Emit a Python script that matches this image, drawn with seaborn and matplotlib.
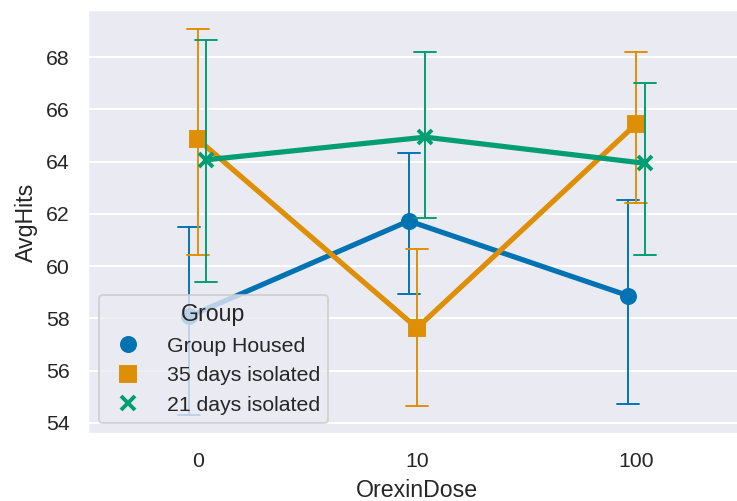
import numpy as np
import pandas as pd
import matplotlib
matplotlib.use("Agg")
import matplotlib.pyplot as plt
from matplotlib.lines import Line2D
import seaborn as sns

doses = [0, 10, 100]
groups = ["Group Housed", "35 days isolated", "21 days isolated"]
markers = ["o", "s", "X"]

# per group: point estimate, lower and upper error bounds at each dose
gh_mean = [58.08, 61.73, 58.87]
gh_low = [54.31, 58.94, 54.72]
gh_high = [61.48, 64.35, 62.54]

d35_mean = [64.86, 57.63, 65.45]
d35_low = [60.43, 54.65, 62.41]
d35_high = [69.07, 60.66, 68.22]

d21_mean = [64.07, 64.94, 63.94]
d21_low = [59.41, 61.86, 60.43]
d21_high = [68.66, 68.22, 67.01]

series = {
    "Group Housed": (gh_mean, gh_low, gh_high),
    "35 days isolated": (d35_mean, d35_low, d35_high),
    "21 days isolated": (d21_mean, d21_low, d21_high),
}

rows = []
for g in groups:
    m, lo, hi = series[g]
    for i, d in enumerate(doses):
        for v in (lo[i], m[i], hi[i]):
            rows.append({"OrexinDose": d, "AvgHits": v, "Group": g})
df = pd.DataFrame(rows)

sns.set_theme(style="darkgrid", palette="colorblind")
plt.rcParams["font.family"] = ["Liberation Sans", "DejaVu Sans"]

DPI = 139
fig = plt.figure(figsize=(737 / DPI, 501 / DPI), dpi=DPI)
ax = fig.add_axes([88 / 737, 1 - 434 / 501, (746 - 88) / 737, (434 - 10) / 501])

palette = sns.color_palette("colorblind", 3)
sns.pointplot(
    data=df, x="OrexinDose", y="AvgHits", hue="Group",
    order=doses, hue_order=groups,
    estimator="median", errorbar=lambda v: (v.min(), v.max()),
    markers=["o", "s", "x"], linestyles="-", dodge=True,
    capsize=0.1, err_kws={"linewidth": 1.0},
    palette=palette, legend=False, ax=ax,
)

ax.set_ylim(53.57, 69.81)

lw = plt.rcParams["lines.linewidth"] * 1.8
handles = [
    Line2D([], [], linestyle="", marker=mk, color=c, markersize=lw * np.sqrt(2 * np.pi),
           markeredgewidth=lw * 0.75, label=g)
    for g, mk, c in zip(groups, ["o", "s", "x"], palette)
]
ax.legend(handles=handles, title="Group", loc="lower left")

fig.savefig("out.png", dpi=DPI)
